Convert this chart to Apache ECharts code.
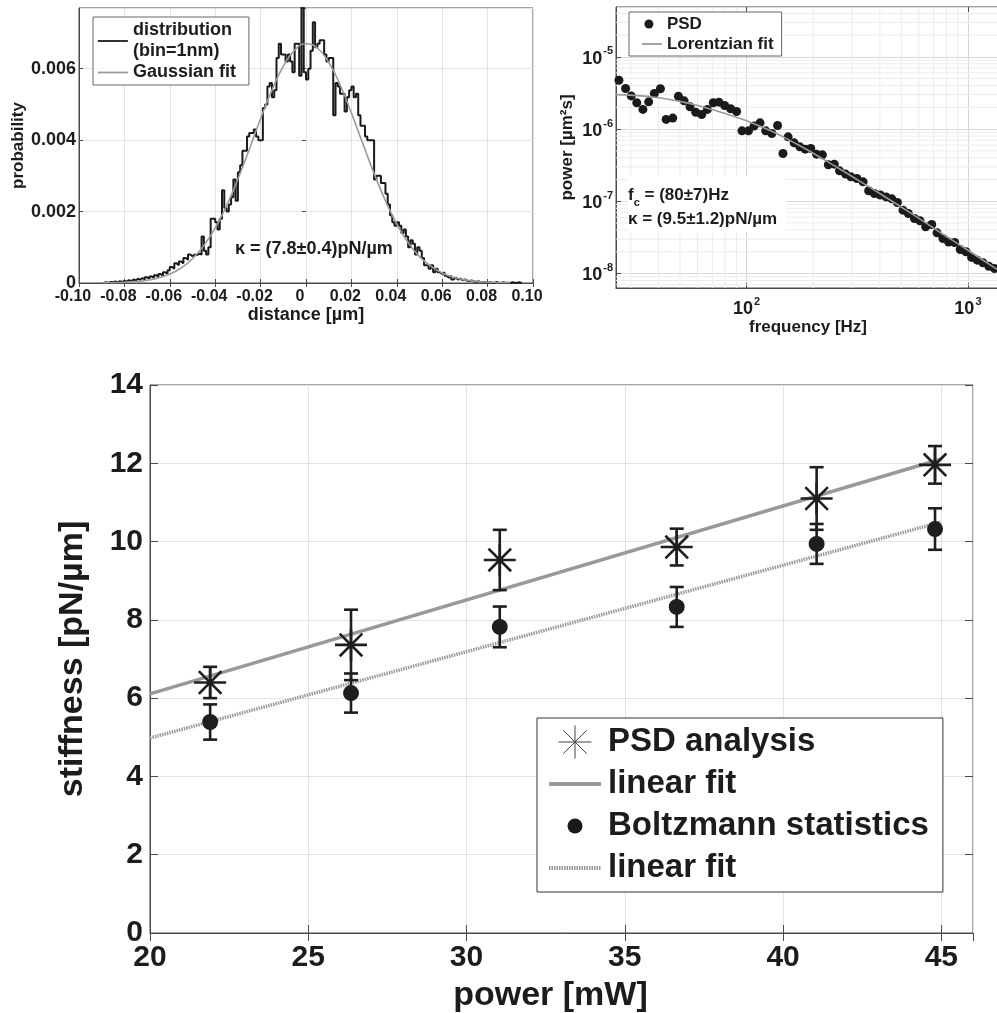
<!DOCTYPE html>
<html><head><meta charset="utf-8">
<script src="https://cdn.jsdelivr.net/npm/echarts@6/dist/echarts.min.js"></script>
<style>html,body{margin:0;padding:0;background:#fff}#c{width:997px;height:1013px}</style>
</head><body><div id="c"></div>
<script>
// ---------------- data ----------------
// Panel A: position histogram (bin = 1 nm), bin left edges start at histStart
const histStart = -0.090;
const histBin = 0.001;
const histProb = [
  0,0.00002,0,0.00003,0.00002,0.00004,0.00002,0.00005,0.00003,0.00006,
  0.00004,0.00008,0.00005,0.0001,0.00007,0.00012,0.00009,0.00014,0.0001,0.00016,
  0.00012,0.00018,0.00015,0.00022,0.00017,0.00025,0.0002,0.0003,0.00026,0.00036,
  0.00045,0.0004,0.00055,0.0005,0.0006,0.00055,0.0007,0.00065,0.0008,0.00075,
  0.0008,0.00078,0.00082,0.0008,0.0013,0.0009,0.0008,0.001,0.0018,0.0018,
  0.0017,0.0015,0.0018,0.0026,0.0021,0.002,0.0022,0.0024,0.0029,0.0023,
  0.0031,0.0033,0.0037,0.0037,0.0041,0.0042,0.0042,0.0043,0.0041,0.004,
  0.004,0.0049,0.005,0.0055,0.0056,0.0052,0.0054,0.0063,0.0067,0.0064,
  0.0064,0.0062,0.0064,0.0062,0.0059,0.0067,0.0067,0.0058,0.0078,0.0059,
  0.0057,0.006,0.0065,0.0073,0.0066,0.0067,0.0068,0.0068,0.0064,0.0062,
  0.0063,0.0063,0.0047,0.0056,0.0055,0.0053,0.0053,0.0048,0.0052,0.0054,
  0.0055,0.0052,0.0053,0.0047,0.0044,0.0044,0.0041,0.004,0.004,0.004,
  0.0029,0.003,0.003,0.0028,0.0028,0.0025,0.0022,0.0019,0.0017,0.0016,
  0.0017,0.0016,0.0014,0.0015,0.0013,0.001,0.0012,0.0011,0.0008,0.001,
  0.0009,0.0007,0.0005,0.0005,0.0004,0.0005,0.0003,0.0004,0.0003,0.00025,
  0.0003,0.0002,0.00015,0.0002,0.0001,0.00015,0.0001,0.00012,0.00008,0.0001,
  0.00006,0.00005,0.00007,0.00004,0.00003,0.00005,0.00002,0.00003,0.00002,0.00001,
  0.00002,0.00001,0,0.00003,0.00001,0,0.00002,0,0.00001,0,
  0.00002,0,0.00001,0.00002,0
];
const gaussX = [-0.09,-0.085,-0.08,-0.075,-0.07,-0.065,-0.06,-0.055,-0.05,-0.045,-0.04,-0.035,-0.03,-0.025,-0.02,-0.015,-0.01,-0.005,0,
  0.005,0.01,0.015,0.02,0.025,0.03,0.035,0.04,0.045,0.05,0.055,0.06,0.065,0.07,0.075,0.08,0.085,0.09];
const gaussY = [0.000004,0.00001,0.00002,0.00004,0.000077,0.000143,0.00025,0.00042,0.00068,0.00105,0.00154,0.00216,0.00291,0.00374,0.0046,0.0054,0.00607,0.00652,0.0067,
  0.00658,0.00618,0.00555,0.00476,0.00391,0.00307,0.0023,0.00165,0.00113,0.00074,0.00047,0.00028,0.00016,0.000088,0.000046,0.000023,0.000011,0.000005];

// Panel B: power spectral density
const psdFreq = [26.5,28.4,30.1,31.9,34.0,36.1,38.3,40.8,43.3,46.4,49.2,52.2,55.5,58.9,62.7,66.5,70.7,75.0,79.6,84.7,90.1,
  95.3,102,108,115,122,130,138,146,154,164,174,184,195,207,220,234,249,263,280,296,315,336,356,378,402,427,453,480,
  509,538,573,607,644,686,725,771,818,871,923,980,1039,1102,1169,1243,1319];
const psdPower = [4.75e-6,3.64e-6,2.88e-6,2.31e-6,1.87e-6,2.38e-6,3.11e-6,3.61e-6,1.36e-6,1.42e-6,2.85e-6,2.46e-6,2.03e-6,1.71e-6,1.59e-6,1.87e-6,2.31e-6,2.36e-6,2.12e-6,1.91e-6,1.75e-6,
  9.45e-7,9.45e-7,1.10e-6,1.22e-6,9.45e-7,8.68e-7,1.12e-6,4.59e-7,7.81e-7,6.45e-7,5.68e-7,5.27e-7,5.38e-7,4.49e-7,4.40e-7,3.20e-7,3.27e-7,2.64e-7,2.38e-7,2.18e-7,2.07e-7,1.86e-7,1.40e-7,1.28e-7,1.22e-7,1.15e-7,1.08e-7,9.62e-8,
  7.54e-8,6.78e-8,5.78e-8,5.37e-8,4.43e-8,4.77e-8,3.66e-8,3.05e-8,2.72e-8,2.69e-8,2.15e-8,2.00e-8,1.67e-8,1.53e-8,1.41e-8,1.26e-8,1.17e-8];
const lorFreq = [25.7,30,40,50,60,70,80,100,130,170,220,300,400,550,750,1000,1396];
const lorPower = [3.0e-6,2.95e-6,2.72e-6,2.42e-6,2.12e-6,1.86e-6,1.64e-6,1.3e-6,9.3e-7,6.1e-7,3.9e-7,2.2e-7,1.28e-7,6.9e-8,3.7e-8,2.1e-8,1.07e-8];
const minorFreqGrid = [30,40,50,60,70,80,90,200,300,400,500,600,700,800,900];
const minorPowGrid = [7e-9,8e-9,9e-9,2e-8,3e-8,4e-8,5e-8,6e-8,7e-8,8e-8,9e-8,2e-7,3e-7,4e-7,5e-7,6e-7,7e-7,8e-7,9e-7,
  2e-6,3e-6,4e-6,5e-6,6e-6,7e-6,8e-6,9e-6,2e-5,3e-5,4e-5];

// Panel C: stiffness vs. laser power
const laserPower = [21.9, 26.35, 31.05, 36.64, 41.06, 44.8];
const psdStiff = [6.4, 7.36, 9.53, 9.86, 11.1, 11.96];
const psdErr = [0.4, 0.9, 0.77, 0.47, 0.8, 0.48];
const boltzStiff = [5.39, 6.13, 7.82, 8.33, 9.94, 10.32];
const boltzErr = [0.45, 0.5, 0.52, 0.51, 0.51, 0.53];
const fitPower = [20, 45];
const psdFitStiff = [6.11, 12.11];
const boltzFitStiff = [4.98, 10.5];

// ---------------- styling helpers ----------------
const FF = '"Liberation Sans", Arial, Helvetica, sans-serif';
const TXT = '#1c1c1c';
const AX = '#4a4a4a';
const GRIDC = '#e3e3e3';
const ASTERISK = 'path://M10,0L10,20M0,10L20,10M2.93,2.93L17.07,17.07M2.93,17.07L17.07,2.93';

function lbl(size, extra) {
  return Object.assign({fontFamily: FF, fontWeight: 'bold', fontSize: size, color: TXT}, extra || {});
}
function mirrorAxis(gridIndex, position, type, min, max, interval, tickLen) {
  const a = {gridIndex, position, type, min, max,
    axisLine: {show: false}, axisLabel: {show: false}, splitLine: {show: false},
    axisTick: {show: true, inside: true, length: tickLen, lineStyle: {color: AX}}};
  if (interval != null) a.interval = interval;
  if (type === 'log') a.logBase = 10;
  return a;
}
function powTen(v) {
  const e = Math.round(Math.log10(v));
  if (Math.abs(Math.log10(v) - e) > 1e-6) return '';
  return '{b|10}{s|' + e + '}';
}
const powRich = {
  b: {fontFamily: FF, fontWeight: 'bold', fontSize: 18, color: TXT, lineHeight: 22, verticalAlign: 'bottom'},
  s: {fontFamily: FF, fontWeight: 'bold', fontSize: 11, color: TXT, lineHeight: 22, verticalAlign: 'top', padding: [0, 0, 0, 1]}
};

function errorBarRender(params, api) {
  const x = api.value(0), lo = api.value(1), hi = api.value(2);
  const top = api.coord([x, hi]);
  const bot = api.coord([x, lo]);
  const half = 7;
  const st = {stroke: '#1e1e1e', lineWidth: 2.6};
  return {type: 'group', children: [
    {type: 'line', shape: {x1: top[0], y1: top[1], x2: bot[0], y2: bot[1]}, style: st},
    {type: 'line', shape: {x1: top[0] - half, y1: top[1], x2: top[0] + half, y2: top[1]}, style: st},
    {type: 'line', shape: {x1: bot[0] - half, y1: bot[1], x2: bot[0] + half, y2: bot[1]}, style: st}
  ]};
}
function vGridRender(params, api) {
  const cs = params.coordSys;
  const p = api.coord([api.value(0), api.value(1)]);
  return {type: 'line', shape: {x1: p[0], y1: cs.y, x2: p[0], y2: cs.y + cs.height}, style: {stroke: '#ececec', lineWidth: 1}};
}
function hGridRender(params, api) {
  const cs = params.coordSys;
  const p = api.coord([api.value(0), api.value(1)]);
  return {type: 'line', shape: {x1: cs.x, y1: p[1], x2: cs.x + cs.width, y2: p[1]}, style: {stroke: '#ececec', lineWidth: 1}};
}

// ---------------- build series data ----------------
const histData = histProb.map((v, i) => [+(histStart + i * histBin).toFixed(4), v]);
histData.push([+(histStart + histProb.length * histBin).toFixed(4), histProb[histProb.length - 1]]);
const gaussData = gaussX.map((x, i) => [x, gaussY[i]]);
const psdData = psdFreq.map((f, i) => [f, psdPower[i]]);
const lorData = lorFreq.map((f, i) => [f, lorPower[i]]);
const psdPts = laserPower.map((p, i) => [p, psdStiff[i]]);
const boltzPts = laserPower.map((p, i) => [p, boltzStiff[i]]);
const psdBars = laserPower.map((p, i) => [p, psdStiff[i] - psdErr[i], psdStiff[i] + psdErr[i]]);
const boltzBars = laserPower.map((p, i) => [p, boltzStiff[i] - boltzErr[i], boltzStiff[i] + boltzErr[i]]);
const psdFit = fitPower.map((p, i) => [p, psdFitStiff[i]]);
const boltzFit = fitPower.map((p, i) => [p, boltzFitStiff[i]]);

const chart = echarts.init(document.getElementById('c'), null, {renderer: 'canvas'});
const option = {
  backgroundColor: '#ffffff',
  animation: false,
  grid: [
    {left: 79, top: 8, width: 454, height: 275, show: true, borderColor: AX, borderWidth: 1, backgroundColor: '#fff', outerBoundsMode: 'none', containLabel: false},
    {left: 616, top: 7, width: 384, height: 281, show: true, borderColor: AX, borderWidth: 1, backgroundColor: '#fff', outerBoundsMode: 'none', containLabel: false},
    {left: 150, top: 385, width: 823, height: 548, show: true, borderColor: AX, borderWidth: 1, backgroundColor: '#fff', outerBoundsMode: 'none', containLabel: false}
  ],
  xAxis: [
    {gridIndex: 0, type: 'value', min: -0.1, max: 0.1, interval: 0.02,
      name: 'distance [µm]', nameLocation: 'middle', nameGap: 22, nameTextStyle: lbl(18),
      axisLine: {show: true, onZero: false, lineStyle: {color: AX}},
      axisTick: {inside: true, length: 4, lineStyle: {color: AX}},
      axisLabel: lbl(16, {margin: 6, padding: [0, 12, 0, 0], formatter: v => Math.abs(v) < 1e-9 ? '0' : v.toFixed(2)}),
      splitLine: {show: true, lineStyle: {color: GRIDC}}},
    mirrorAxis(0, 'top', 'value', -0.1, 0.1, 0.02, 4),
    {gridIndex: 1, type: 'log', logBase: 10, min: 25.7, max: 1396,
      name: 'frequency [Hz]', nameLocation: 'middle', nameGap: 26, nameTextStyle: lbl(17),
      axisLine: {show: true, onZero: false, lineStyle: {color: AX}},
      axisTick: {inside: true, length: 5, lineStyle: {color: AX}},
      axisLabel: {margin: 8, formatter: powTen, rich: powRich, showMinLabel: false, showMaxLabel: false},
      splitLine: {show: true, lineStyle: {color: '#d8d8d8'}}},
    mirrorAxis(1, 'top', 'log', 25.7, 1396, null, 5),
    {gridIndex: 2, type: 'value', min: 20, max: 46, interval: 5,
      name: 'power [mW]', nameLocation: 'middle', nameGap: 46, nameTextStyle: lbl(34, {padding: [0, 22, 0, 0]}),
      axisLine: {show: true, onZero: false, lineStyle: {color: AX}},
      axisTick: {inside: true, length: 8, lineStyle: {color: AX}},
      axisLabel: lbl(30, {margin: 10, showMaxLabel: false}),
      splitLine: {show: true, lineStyle: {color: GRIDC}}},
    mirrorAxis(2, 'top', 'value', 20, 46, 5, 8)
  ],
  yAxis: [
    {gridIndex: 0, type: 'value', min: 0, max: 0.0077, interval: 0.002,
      name: 'probability', nameLocation: 'middle', nameGap: 52, nameTextStyle: lbl(17),
      axisLine: {show: true, onZero: false, lineStyle: {color: AX}},
      axisTick: {inside: true, length: 4, lineStyle: {color: AX}},
      axisLabel: lbl(18, {margin: 3, showMaxLabel: false, formatter: v => v === 0 ? '0' : v.toFixed(3)}),
      splitLine: {show: true, lineStyle: {color: GRIDC}}},
    mirrorAxis(0, 'right', 'value', 0, 0.0077, 0.002, 4),
    {gridIndex: 1, type: 'log', logBase: 10, min: 6.3e-9, max: 4.9e-5,
      name: 'power [µm²s]', nameLocation: 'middle', nameGap: 40, nameTextStyle: lbl(17),
      axisLine: {show: true, onZero: false, lineStyle: {color: AX}},
      axisTick: {inside: true, length: 5, lineStyle: {color: AX}},
      axisLabel: {margin: 3, formatter: powTen, rich: powRich, showMinLabel: false, showMaxLabel: false},
      splitLine: {show: true, lineStyle: {color: '#d8d8d8'}}},
    {gridIndex: 2, type: 'value', min: 0, max: 14, interval: 2,
      name: 'stiffness [pN/µm]', nameLocation: 'middle', nameGap: 60, nameTextStyle: lbl(34),
      axisLine: {show: true, onZero: false, lineStyle: {color: AX}},
      axisTick: {inside: true, length: 8, lineStyle: {color: AX}},
      axisLabel: lbl(30, {margin: 7}),
      splitLine: {show: true, lineStyle: {color: GRIDC}}},
    mirrorAxis(2, 'right', 'value', 0, 14, 2, 8)
  ],
  legend: [
    {left: 93, top: 17, orient: 'vertical', padding: [3, 13, 2, 4], itemWidth: 30, itemHeight: 12, itemGap: 0,
      backgroundColor: '#fff', borderColor: '#666', borderWidth: 1, borderRadius: 0, selectedMode: false,
      textStyle: lbl(18, {lineHeight: 21}),
      formatter: n => n === 'distribution' ? 'distribution\n(bin=1nm)' : n,
      data: [
        {name: 'distribution', icon: 'path://M0,6L30,6M0,0M30,12', itemStyle: {color: 'rgba(0,0,0,0)', borderColor: '#1a1a1a', borderWidth: 1.8}},
        {name: 'Gaussian fit', icon: 'path://M0,6L30,6M0,0M30,12', itemStyle: {color: 'rgba(0,0,0,0)', borderColor: '#9a9a9a', borderWidth: 1.8}}
      ]},
    {left: 629, top: 12, orient: 'vertical', padding: [2, 8, 2, 12], itemWidth: 20, itemHeight: 12, itemGap: 0,
      backgroundColor: '#fff', borderColor: '#666', borderWidth: 1, borderRadius: 0, selectedMode: false,
      textStyle: lbl(17, {lineHeight: 20}),
      data: [
        {name: 'PSD', icon: 'path://M0,0M20,12M7,1.5A4.5,4.5,0,1,1,7,10.5A4.5,4.5,0,1,1,7,1.5Z', itemStyle: {color: '#1a1a1a', borderWidth: 0}},
        {name: 'Lorentzian fit', icon: 'path://M0,6L20,6M0,0M20,12', itemStyle: {color: 'rgba(0,0,0,0)', borderColor: '#9a9a9a', borderWidth: 1.8}}
      ]},
    {left: 537, top: 718, orient: 'vertical', padding: [5, 14, 5, 10], itemWidth: 52, itemHeight: 33, itemGap: 4,
      backgroundColor: '#fff', borderColor: '#333', borderWidth: 1, borderRadius: 0, selectedMode: false,
      textStyle: lbl(33, {lineHeight: 38, padding: [0, 0, 0, 2]}),
      formatter: n => (n === 'psdFit' || n === 'boltzFit') ? 'linear fit' : n,
      data: [
        {name: 'PSD analysis', icon: ASTERISK, itemStyle: {color: 'rgba(0,0,0,0)', borderColor: '#444', borderWidth: 1}},
        {name: 'psdFit', icon: 'path://M0,16.5L52,16.5M0,0M52,33', itemStyle: {color: 'rgba(0,0,0,0)', borderColor: '#999', borderWidth: 4}},
        {name: 'Boltzmann statistics', icon: 'path://M0,0M33,33M16.5,9A7.5,7.5,0,1,1,16.5,24A7.5,7.5,0,1,1,16.5,9Z', itemStyle: {color: '#1a1a1a', borderWidth: 0}},
        {name: 'boltzFit', icon: 'path://M0,16.5L52,16.5M0,0M52,33', itemStyle: {color: 'rgba(0,0,0,0)', borderColor: '#999', borderWidth: 4, borderType: [1.5, 1]}}
      ]}
  ],
  graphic: [
    {type: 'text', left: 235, top: 240, z: 100, style: {text: 'κ = (7.8±0.4)pN/µm', font: 'bold 18px ' + FF, fill: TXT}},
    {type: 'rect', left: 628, top: 176, z: 90, shape: {width: 158, height: 56}, style: {fill: '#fff'}},
    {type: 'text', left: 628, top: 187, z: 100, style: {text: 'f{s|c} = (80±7)Hz', font: 'bold 17px ' + FF, fill: TXT,
      rich: {s: {fontFamily: FF, fontWeight: 'bold', fontSize: 11, fill: TXT, verticalAlign: 'bottom', lineHeight: 26}}}},
    {type: 'text', left: 628, top: 211, z: 100, style: {text: 'κ = (9.5±1.2)pN/µm', font: 'bold 17px ' + FF, fill: TXT}}
  ],
  series: [
    {name: 'distribution', type: 'line', xAxisIndex: 0, yAxisIndex: 0, step: 'end', data: histData,
      symbol: 'none', lineStyle: {color: '#1a1a1a', width: 2}, itemStyle: {color: '#1a1a1a'}, z: 3},
    {name: 'Gaussian fit', type: 'line', xAxisIndex: 0, yAxisIndex: 0, smooth: true, data: gaussData,
      symbol: 'none', lineStyle: {color: '#9a9a9a', width: 1.6}, itemStyle: {color: '#9a9a9a'}, z: 4},
    {type: 'custom', xAxisIndex: 2, yAxisIndex: 2, silent: true, z: 1, renderItem: vGridRender,
      data: minorFreqGrid.map(f => [f, 1e-6])},
    {type: 'custom', xAxisIndex: 2, yAxisIndex: 2, silent: true, z: 1, renderItem: hGridRender,
      data: minorPowGrid.map(v => [100, v])},
    {name: 'PSD', type: 'scatter', xAxisIndex: 2, yAxisIndex: 2, data: psdData, symbol: 'circle', symbolSize: 9,
      itemStyle: {color: '#1a1a1a', opacity: 1}, z: 3},
    {name: 'Lorentzian fit', type: 'line', xAxisIndex: 2, yAxisIndex: 2, smooth: true, data: lorData,
      symbol: 'none', lineStyle: {color: '#999', width: 1.6}, itemStyle: {color: '#999'}, z: 4},
    {name: 'psdFit', type: 'line', xAxisIndex: 4, yAxisIndex: 3, data: psdFit, symbol: 'none',
      lineStyle: {color: '#999', width: 3.5}, itemStyle: {color: '#999'}, z: 2},
    {name: 'boltzFit', type: 'line', xAxisIndex: 4, yAxisIndex: 3, data: boltzFit, symbol: 'none',
      lineStyle: {color: '#999', width: 3.5, type: [1.5, 1]}, itemStyle: {color: '#999'}, z: 2},
    {type: 'custom', xAxisIndex: 4, yAxisIndex: 3, renderItem: errorBarRender, data: psdBars, encode: {x: 0, y: [1, 2]}, z: 3},
    {type: 'custom', xAxisIndex: 4, yAxisIndex: 3, renderItem: errorBarRender, data: boltzBars, encode: {x: 0, y: [1, 2]}, z: 3},
    {name: 'PSD analysis', type: 'scatter', xAxisIndex: 4, yAxisIndex: 3, data: psdPts, symbol: ASTERISK, symbolSize: 32,
      itemStyle: {color: 'rgba(0,0,0,0)', borderColor: '#1e1e1e', borderWidth: 2.6, opacity: 1}, z: 4},
    {name: 'Boltzmann statistics', type: 'scatter', xAxisIndex: 4, yAxisIndex: 3, data: boltzPts, symbol: 'circle', symbolSize: 16,
      itemStyle: {color: '#1e1e1e', opacity: 1}, z: 4}
  ]
};
chart.setOption(option);
</script>
</body></html>
